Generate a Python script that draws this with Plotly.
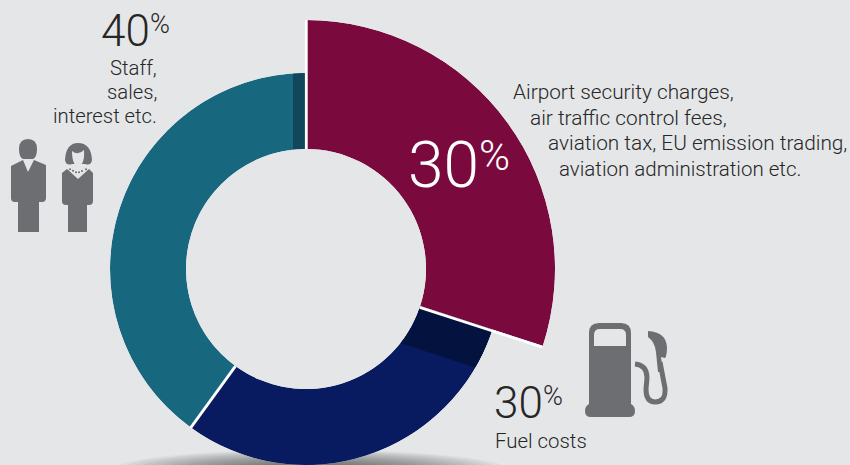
import math
import re
import plotly.graph_objects as go

# Cost shares, clockwise from twelve o'clock
segments = ["Airport charges", "Fuel costs", "Staff, sales, interest etc."]
shares = [30, 30, 40]
colors = ["#7a0a3e", "#081a60", "#17677f"]

W, H = 850, 465
CX, CY = 306, 269
R_IN, R_OUT, R_BIG = 120, 196, 249
BG = "#e5e6e8"
ICON = "#6d6e71"
TEXT = "#262626"
FONT = "Roboto"

# Starting angle of each segment, in degrees
angles = []
total = 0
for s in shares:
    angles.append(total * 360 / sum(shares))
    total += s
widths = [s * 360 / sum(shares) for s in shares]
mids = [a + w / 2 for a, w in zip(angles, widths)]


def px(x, y):
    return x / W, 1 - y / H


def band(start, offset, sign):
    """Ring strip next to a radial edge, cut along a line parallel to that edge."""
    steps = 16
    inner = math.degrees(math.asin(offset / R_IN))
    outer = math.degrees(math.asin(offset / R_OUT))
    th = [start + sign * inner * i / steps for i in range(steps + 1)]
    rr = [R_IN] * (steps + 1)
    th += [start + sign * outer * (steps - i) / steps for i in range(steps + 1)]
    rr += [R_OUT] * (steps + 1)
    th.append(th[0])
    rr.append(rr[0])
    return rr, th


fig = go.Figure()

# Lower ring: fuel and staff segments
fig.add_trace(go.Barpolar(
    r=[R_OUT - R_IN] * 2, base=[R_IN] * 2, theta=mids[1:], width=widths[1:],
    marker=dict(color=colors[1:], line=dict(width=0)),
    subplot="polar", hoverinfo="skip", showlegend=False))

# Darker strips along the raised segment
for (rr, th), col in [(band(angles[1], 41.3, 1), "#04123f"),
                      (band(360, 13, -1), "#10475a")]:
    fig.add_trace(go.Scatterpolar(
        r=rr, theta=th, mode="lines", fill="toself", fillcolor=col,
        line=dict(width=0, color=col), subplot="polar",
        hoverinfo="skip", showlegend=False))

# Raised segment, on its own larger sector
fig.add_trace(go.Barpolar(
    r=[R_BIG - R_IN], base=[R_IN], theta=[mids[0]], width=[widths[0]],
    marker=dict(color=colors[0], line=dict(width=0)),
    subplot="polar2", hoverinfo="skip", showlegend=False))


def polar_axes(r_max, hole, sector, x_px, y_px):
    return dict(
        domain=dict(x=[x_px[0] / W, x_px[1] / W],
                    y=[1 - y_px[1] / H, 1 - y_px[0] / H]),
        hole=hole, sector=sector, bgcolor="rgba(0,0,0,0)",
        radialaxis=dict(range=[R_IN, r_max], visible=False),
        angularaxis=dict(visible=False, rotation=90, direction="clockwise"),
    )


def path(d):
    """Convert an SVG path written in page pixels to paper coordinates."""
    def conv(m):
        x, y = px(float(m.group(1)), float(m.group(2)))
        return f"{x:.5f},{y:.5f}"
    return re.sub(r"(-?[\d.]+),(-?[\d.]+)", conv, d)


shapes = []

# Soft ground shadow beneath the ring
for i in range(24):
    f = 1 - i / 24
    x0, y0 = px(310 - 195 * f - 3, 470 - 20 * f)
    x1, y1 = px(310 + 195 * f + 3, 470 + 20 * f)
    shapes.append(dict(type="circle", xref="paper", yref="paper",
                       x0=x0, x1=x1, y0=y0, y1=y1, layer="below",
                       fillcolor="#3a3a3a", opacity=0.05, line=dict(width=0)))


def separator(angle, r0, r1, shift=0.0):
    """White line along a segment edge, nudged sideways by shift pixels."""
    a = math.radians(angle)
    ux, uy = math.sin(a), -math.cos(a)
    nx, ny = -uy, ux
    x0, y0 = px(CX + ux * r0 + nx * shift, CY + uy * r0 + ny * shift)
    x1, y1 = px(CX + ux * r1 + nx * shift, CY + uy * r1 + ny * shift)
    shapes.append(dict(type="line", xref="paper", yref="paper",
                       x0=x0, y0=y0, x1=x1, y1=y1, layer="above",
                       line=dict(color="white", width=2.8)))


separator(angles[0], R_IN, R_BIG, 0.3)
separator(angles[1], R_IN, R_BIG, 1.3)
separator(angles[2], R_IN, R_OUT)


def solid(d, color=ICON):
    shapes.append(dict(type="path", xref="paper", yref="paper", path=path(d),
                       fillcolor=color, line=dict(width=0), layer="above"))


def stroke(d, width, color=ICON):
    shapes.append(dict(type="path", xref="paper", yref="paper", path=path(d),
                       line=dict(color=color, width=width), layer="above"))


# Fuel pump
solid("M589,404 L589,333 Q589,323 599,323 L621,323 Q631,323 631,333 L631,404 "
      "Q635,406 635,411 Q635,417 629,417 L591,417 Q585,417 585,411 Q585,406 589,404 Z")
solid("M594,346 L594,335 Q594,329 600,329 L620,329 Q626,329 626,335 L626,346 Z", BG)
stroke("M635,364 Q647,365 647,378 L646,389 Q646,402 655,402 Q666,402 665,388 "
       "L660,362", 5)
solid("M648,331 Q666,332 667,347 Q667,356 665,358 L661,357 L663,372 L658,372 "
      "L656,352 Q655,342 648,337 Z")

# Man
solid("M19,149 Q19,139 28,139 Q37,139 37,149 Q37,157 33,159 L23,159 Q19,157 19,149 Z")
solid("M11,166 L23,160 L28,172 L34,160 L46,165 L46,198 Q46,202 42,202 L39,202 "
      "L39,232 L18,232 L18,202 L15,202 Q11,202 11,198 Z")

# Woman
solid("M65,160 Q66,143 78,143 Q91,143 92,160 Q91,166 85,164 L72,164 Q66,166 65,160 Z")
solid("M72,151 Q78,156 84,150 Q85,165 78,166 Q72,165 72,151 Z", BG)
solid("M62,173 L67,169 L78,179 L89,169 L93,173 L93,201 Q93,205 89,205 L87,205 "
      "L87,232 L68,232 L68,205 L66,205 Q62,205 62,201 Z")
for bead_x, bead_y in [(70, 169.3), (73, 170.7), (76, 172.3), (79, 172.3), (82, 171), (86, 169.3)]:
    x0, y0 = px(bead_x - 1, bead_y - 1)
    x1, y1 = px(bead_x + 1, bead_y + 1)
    shapes.append(dict(type="circle", xref="paper", yref="paper", x0=x0, x1=x1,
                       y0=y0, y1=y1, fillcolor=ICON, line=dict(width=0), layer="above"))

annotations = []


def label(text, x, y, size, color=TEXT, anchor="left"):
    ax, ay = px(x, y)
    annotations.append(dict(
        text=text, x=ax, y=ay, xref="paper", yref="paper", showarrow=False,
        xanchor=anchor, yanchor="middle", align=anchor, borderpad=0, borderwidth=0,
        font=dict(family=FONT, size=size, color=color, weight=300)))


# Staff block
label(f"{shares[2]}", 101, 31, 44)
label("%", 150, 24, 27)
label("Staff,", 157, 68, 20.3, anchor="right")
label("sales,", 157, 92, 20.3, anchor="right")
label("interest etc.", 157, 116, 20.3, anchor="right")

# Charges block
label(f"{shares[0]}", 408, 166, 64, color="white")
label("%", 479, 156, 42, color="white")
label("Airport security charges,", 513, 92, 20.8)
label("air traffic control fees,", 530, 118, 20.8)
label("aviation tax, EU emission trading,", 548, 143, 20.8)
label("aviation administration etc.", 559, 169, 20.5)

# Fuel block
label(f"{shares[1]}", 494, 403, 44)
label("%", 543, 396, 27)
label("Fuel costs", 495, 441, 20.4)

fig.update_layout(
    width=W, height=H, margin=dict(l=0, r=0, t=0, b=0), autosize=False,
    paper_bgcolor=BG, plot_bgcolor=BG, showlegend=False,
    polar=polar_axes(R_OUT, R_IN / R_OUT, [0, 360],
                     (CX - R_OUT, CX + R_OUT), (CY - R_OUT, CY + R_OUT)),
    polar2=polar_axes(R_BIG, R_IN / R_BIG, [90 - widths[0], 90],
                      (CX, CX + R_BIG),
                      (CY - R_BIG, CY - R_BIG * math.sin(math.radians(90 - widths[0])))),
    shapes=shapes, annotations=annotations,
)

fig.write_html("out.html")
